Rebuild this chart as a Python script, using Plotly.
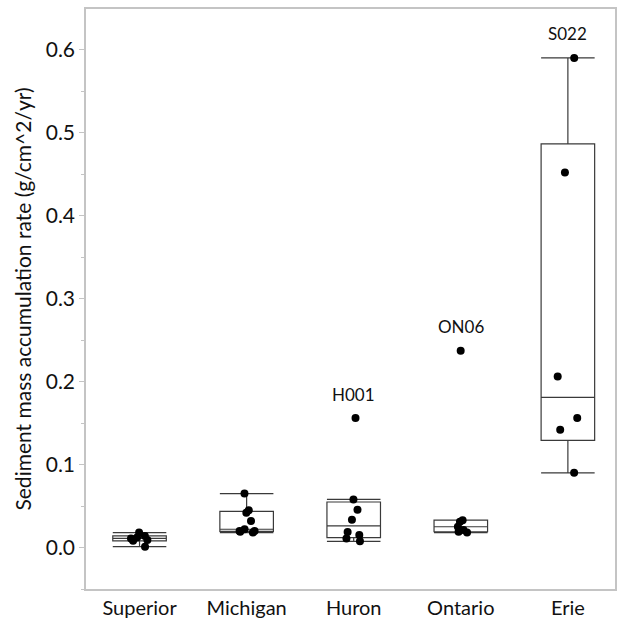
import numpy as np
import plotly.graph_objects as go

# Sediment mass accumulation rate by lake (g/cm^2/yr)
lakes = ["Superior", "Michigan", "Huron", "Ontario", "Erie"]
superior = [0.001, 0.008, 0.009, 0.011, 0.012, 0.014, 0.018]
michigan = [0.018, 0.019, 0.020, 0.020, 0.022, 0.032, 0.042, 0.045, 0.065]
huron = [0.0075, 0.011, 0.015, 0.0186, 0.0335, 0.0454, 0.058, 0.156]
ontario = [0.018, 0.019, 0.021, 0.025, 0.031, 0.033, 0.237]
erie = [0.090, 0.142, 0.156, 0.206, 0.452, 0.590]
series = [superior, michigan, huron, ontario, erie]

# Labelled outlier cores
core_lake = ["Huron", "Ontario", "Erie"]
core_id = ["H001", "ON06", "S022"]
core_value = [0.156, 0.237, 0.590]

y_ticks = [0.0, 0.1, 0.2, 0.3, 0.4, 0.5, 0.6]

FONT = "Lato, 'Open Sans', sans-serif"
BOX_LINE = "#3a3a3a"
FRAME = "#c4c4c4"
TEXT = "#111111"


def box_stats(vals):
    """Quartiles at (n+1)p positions; whiskers to the furthest point within 1.5 IQR."""
    v = np.asarray(vals, dtype=float)
    q1, med, q3 = np.quantile(v, [0.25, 0.5, 0.75], method="weibull")
    iqr = q3 - q1
    lo = v[v >= q1 - 1.5 * iqr].min()
    hi = v[v <= q3 + 1.5 * iqr].max()
    return q1, med, q3, lo, hi


fig = go.Figure()
for lake, vals in zip(lakes, series):
    q1, med, q3, lo, hi = box_stats(vals)
    # box and whiskers
    fig.add_trace(go.Box(
        x=[lake], q1=[q1], median=[med], q3=[q3],
        lowerfence=[lo], upperfence=[hi],
        name=lake, boxpoints=False,
        whiskerwidth=1, width=0.5,
        fillcolor="rgba(0,0,0,0)",
        line=dict(color=BOX_LINE, width=1.2),
        showlegend=False, hoverinfo="skip",
    ))
    # individual cores, jittered across the box
    fig.add_trace(go.Box(
        x=[lake] * len(vals), y=vals,
        name=lake, boxpoints="all", jitter=0.45, pointpos=0,
        width=0.5,
        fillcolor="rgba(0,0,0,0)",
        line=dict(color="rgba(0,0,0,0)", width=0),
        marker=dict(color="black", size=8, line=dict(width=0)),
        showlegend=False,
    ))

for lake, cid, val in zip(core_lake, core_id, core_value):
    fig.add_annotation(
        x=lake, y=val, text=cid, showarrow=False, yshift=24,
        font=dict(family=FONT, size=17, color=TEXT),
    )

fig.update_layout(
    width=624, height=626,
    margin=dict(l=86, r=9, t=7, b=29),
    paper_bgcolor="white", plot_bgcolor="white",
    font=dict(family=FONT, color=TEXT),
    boxmode="overlay",
)
fig.update_xaxes(
    type="category",
    categoryorder="array", categoryarray=lakes,
    range=[-0.5, 4.44],
    showline=True, mirror=True, linecolor=FRAME, linewidth=1.5,
    showgrid=False, ticks="", zeroline=False,
    tickfont=dict(family=FONT, size=20, color=TEXT),
)
fig.update_yaxes(
    range=[-0.05, 0.649],
    tickvals=y_ticks, ticktext=[f"{v:.1f}" for v in y_ticks],
    ticks="outside", ticklen=5, tickcolor=FRAME, tickwidth=1,
    minor=dict(dtick=0.05, tick0=0, ticks="outside", ticklen=3, tickcolor=FRAME),
    showline=True, mirror=True, linecolor=FRAME, linewidth=1.5,
    showgrid=False, zeroline=False,
    tickfont=dict(family=FONT, size=21, color=TEXT),
    title=dict(text="Sediment mass accumulation rate (g/cm^2/yr)",
               font=dict(family=FONT, size=21, color=TEXT), standoff=8),
)

fig.write_html("out.html")
